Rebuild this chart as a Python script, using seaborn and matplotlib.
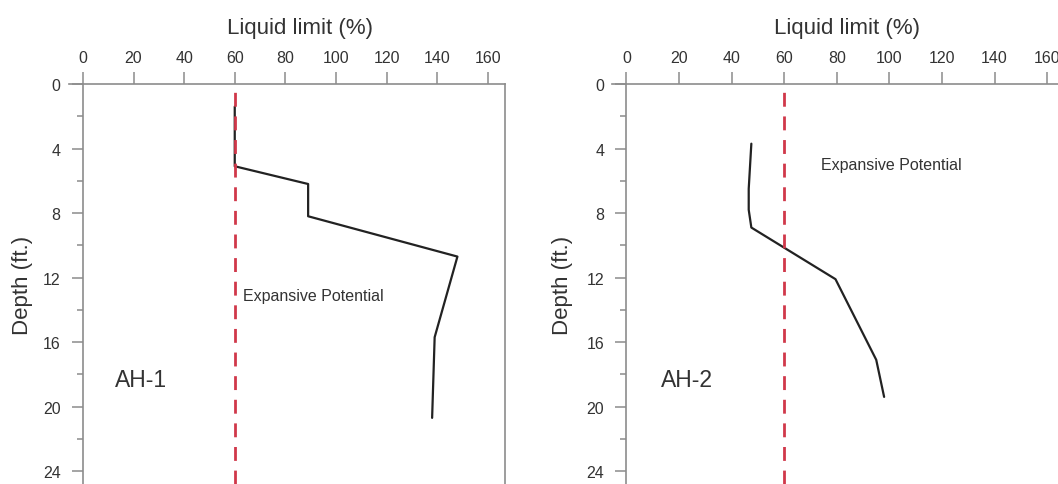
import numpy as np
import matplotlib
matplotlib.use("Agg")
import matplotlib.pyplot as plt
import seaborn as sns
from matplotlib.ticker import MultipleLocator

# Liquid limit profiles
ah1_ll = [60, 60, 89, 89, 148, 139, 138]
ah1_depth = [1.4, 5.1, 6.2, 8.2, 10.7, 15.7, 20.7]

ah2_ll = [47.5, 46.5, 46.5, 47.5, 79.5, 95, 98]
ah2_depth = [3.7, 6.5, 7.8, 8.9, 12.1, 17.1, 19.4]

threshold = 60
x_ticks = [0, 20, 40, 60, 80, 100, 120, 140, 160]
y_ticks = [0, 4, 8, 12, 16, 20, 24]

sns.set_theme(style="white")
plt.rcParams['font.family'] = ['Liberation Sans', 'DejaVu Sans']

fig = plt.figure(figsize=(10.58, 4.85), dpi=100)
ax1 = fig.add_axes([69 / 1058, 0, 436 / 1058, 400 / 485])
ax2 = fig.add_axes([612 / 1058, 0, 453 / 1058, 400 / 485])

grey = '#8c8c8c'
text_c = '#333333'

panels = [
    (ax1, ah1_ll, ah1_depth, 'AH-1', (12.6, 18.3), (63.2, 13.1), 0.53, -0.083),
    (ax2, ah2_ll, ah2_depth, 'AH-2', (13.0, 18.3), (74.1, 5.0), 0.519, -0.086),
]

for ax, ll, depth, name, name_xy, exp_xy, lab_x, ylab_x in panels:
    sns.lineplot(x=ll, y=depth, sort=False, estimator=None, color='#222222',
                 linewidth=1.6, ax=ax)
    ax.axvline(threshold, color='#d0384a', linestyle=(0, (5, 3.5)), linewidth=2.0)

    ax.set_xlim(-5.5, 166.8)
    ax.set_ylim(24.8, 0)

    ax.xaxis.tick_top()
    ax.xaxis.set_label_position('top')
    ax.set_xticks(x_ticks)
    ax.set_yticks(y_ticks)
    ax.yaxis.set_minor_locator(MultipleLocator(2))

    ax.spines['left'].set_position(('data', 0))
    ax.spines['bottom'].set_visible(False)
    for side in ['left', 'top', 'right']:
        ax.spines[side].set_color(grey)
        ax.spines[side].set_linewidth(1.2)

    ax.tick_params(axis='x', which='major', direction='out', length=9, width=1.1,
                   color=grey, labelsize=11.5, labelcolor=text_c, pad=5, top=True, bottom=False)
    ax.tick_params(axis='y', which='major', direction='out', length=8, width=1.1,
                   color=grey, labelsize=11.5, labelcolor=text_c, pad=8, left=True)
    ax.tick_params(axis='y', which='minor', direction='out', length=4.5, width=1.1,
                   color=grey, left=True)

    ax.set_xlabel('Liquid limit (%)', fontsize=16, color=text_c)
    ax.xaxis.set_label_coords(lab_x, 1.1275)
    ax.set_ylabel('Depth (ft.)', fontsize=16, color=text_c)
    ax.yaxis.set_label_coords(ylab_x, 0.5)

    ax.text(name_xy[0], name_xy[1], name, fontsize=16.5, color=text_c,
            ha='left', va='center')
    ax.text(exp_xy[0], exp_xy[1], 'Expansive Potential', fontsize=11.5,
            color=text_c, ha='left', va='center')

fig.savefig('out.png', dpi=100)
